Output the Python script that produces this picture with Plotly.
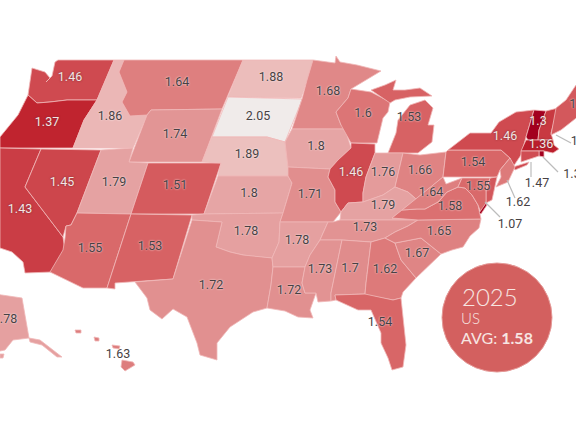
import plotly.graph_objects as go
from plotly.colors import sample_colorscale

# ---- data ----
states = ["WA","OR","CA","NV","ID","MT","WY","UT","AZ","CO","NM","ND","SD","NE","KS","OK","TX","MN","IA","MO","AR","LA",
          "WI","IL","MI","IN","OH","KY","TN","MS","AL","GA","FL","SC","NC","VA","WV","PA","NY","VT","NH","ME","MA","RI","CT","NJ","DE","MD","DC","AK","HI"]
values = [1.46,1.37,1.43,1.45,1.86,1.64,1.74,1.79,1.55,1.51,1.53,1.88,2.05,1.89,1.8,1.78,1.72,1.68,1.8,1.71,1.78,1.72,
          1.6,1.46,1.53,1.76,1.66,1.79,1.73,1.73,1.7,1.62,1.54,1.67,1.65,1.58,1.64,1.54,1.46,1.3,1.42,1.5,1.36,1.3,1.47,1.62,1.5,1.55,1.07,1.78,1.63]
year = "2025"
region = "US"
average = 1.58

# state outlines (no map files can be fetched offline)
outlines = {
"WA": [[(58,60),(114,60),(97,100),(67,100),(50,102),(37,103),(28,95),(32,68),(45,72),(50,78),(46,82),(52,76),(55,62)]],
"OR": [[(28,95),(37,103),(50,102),(67,100),(97,100),(84,120),(73,148),(0,148),(0,137),(18,115)]],
"CA": [[(0,148),(41,149),(25,187),(63,237),(65,250),(52,272),(25,273),(23,262),(12,252),(0,248)]],
"NV": [[(41,149),(101,150),(77,213),(71,225),(66,226),(63,237),(25,187)]],
"ID": [[(114,60),(124,60),(119,72),(127,92),(122,102),(130,116),(147,115),(133,148),(73,148),(84,120),(97,100)]],
"MT": [[(124,60),(243,60),(222,109),(151,110),(147,115),(130,116),(122,102),(127,92),(119,72)]],
"WY": [[(151,110),(222,109),(202,162),(129,162),(147,115)]],
"UT": [[(101,150),(133,148),(129,162),(148,163),(131,214),(77,213)]],
"AZ": [[(77,213),(131,214),(107,288),(83,288),(50,272),(63,250),(65,238),(66,226),(71,225)]],
"CO": [[(148,163),(221,163),(204,214),(131,214)]],
"NM": [[(131,214),(192,215),(173,279),(135,282),(115,283),(115,289),(107,288)]],
"ND": [[(243,60),(313,60),(307,80),(301,98),(228,97)]],
"SD": [[(228,97),(302,99),(300,105),(285,142),(267,137),(212,137)]],
"NE": [[(212,137),(267,137),(285,142),(288,165),(291,176),(218,176),(221,163),(202,162)]],
"KS": [[(218,176),(288,176),(292,183),(283,213),(204,214)]],
"OK": [[(192,215),(204,214),(283,213),(280,222),(279,242),(272,258),(260,257),(243,255),(230,252),(216,247),(222,222),(192,220)]],
"TX": [[(192,220),(222,222),(216,247),(230,252),(243,255),(260,257),(272,258),(273,267),(271,285),(267,308),(253,312),(230,327),(217,343),(217,360),(200,355),(197,343),(187,317),(173,309),(162,319),(150,310),(147,298),(135,282),(173,279)]],
"MN": [[(313,60),(335,63),(336,56),(340,62),(357,65),(381,71),(351,89),(348,98),(336,112),(341,125),(345,129),(292,129),(300,105),(302,99),(307,80)]],
"IA": [[(292,129),(345,129),(351,148),(338,160),(330,169),(288,167),(285,142)]],
"MO": [[(288,167),(330,169),(328,177),(335,190),(335,202),(341,212),(333,222),(328,222),(280,222),(283,213),(292,183),(288,176)]],
"AR": [[(280,222),(328,222),(323,233),(320,240),(310,255),(305,267),(273,267),(272,258),(279,242)]],
"LA": [[(273,267),(305,267),(302,283),(305,293),(316,293),(310,310),(313,318),(298,317),(285,311),(267,308),(271,285)]],
"WI": [[(351,89),(371,92),(390,102),(388,112),(383,118),(380,130),(377,143),(351,143),(341,125),(336,112),(348,98)]],
"IL": [[(351,143),(375,144),(375,153),(366,177),(363,193),(363,202),(348,203),(341,212),(335,202),(335,190),(328,177),(330,169),(338,160),(351,148)]],
"MI": [[(398,120),(410,105),(425,100),(433,108),(428,125),(434,125),(432,142),(418,153),(388,153),(396,133)],
       [(371,90),(385,85),(396,80),(393,90),(405,90),(420,88),(432,96),(410,97),(395,100),(390,103)]],
"IN": [[(375,153),(403,153),(395,187),(383,195),(363,202),(363,193),(366,177)]],
"OH": [[(403,153),(420,155),(446,152),(443,177),(431,187),(416,199),(408,192),(395,187)]],
"KY": [[(341,212),(348,203),(363,202),(383,195),(395,187),(408,192),(416,199),(402,210),(392,218),(418,220),(340,220)]],
"TN": [[(328,222),(333,222),(340,220),(418,220),(408,226),(395,232),(385,238),(371,242),(342,240),(320,240)]],
"MS": [[(320,240),(342,240),(331,293),(331,301),(318,302),(316,293),(305,293),(302,283),(305,267),(310,255)]],
"AL": [[(342,240),(371,242),(366,283),(365,294),(335,295),(336,300),(331,301),(331,293)]],
"GA": [[(371,242),(385,238),(395,243),(401,260),(416,278),(403,292),(401,298),(393,300),(366,295),(365,294),(366,283)]],
"FL": [[(335,295),(365,294),(393,300),(401,298),(403,317),(406,345),(403,367),(392,370),(388,358),(381,343),(381,333),(371,310),(358,310),(341,302),(336,300)]],
"SC": [[(395,243),(421,238),(441,254),(428,267),(416,278),(401,260)]],
"NC": [[(418,220),(481,219),(479,228),(470,236),(463,247),(452,250),(441,254),(421,238),(395,243),(385,238),(395,232),(408,226)]],
"VA": [[(392,218),(402,210),(417,209),(425,209),(438,202),(447,192),(458,187),(465,188),(472,195),(478,205),(481,219),(418,220)]],
"WV": [[(402,210),(416,199),(431,187),(443,177),(446,184),(462,178),(458,187),(447,192),(438,202),(425,209),(417,209)]],
"PA": [[(443,177),(446,152),(448,150),(501,150),(510,158),(500,170),(497,177)]],
"NY": [[(448,150),(470,133),(491,133),(499,122),(516,112),(534,110),(526,137),(521,155),(513,167),(510,158),(501,150)],
       [(513,167),(529,162),(527,165),(515,170)]],
"VT": [[(534,110),(546,111),(539,130),(538,140),(528,140),(526,137)]],
"NH": [[(546,111),(558,108),(551,133),(553,140),(538,140),(539,130)]],
"ME": [[(556,108),(566,100),(574,88),(576,85),(580,85),(580,115),(561,130),(551,135)]],
"MA": [[(526,140),(553,140),(554,145),(559,149),(553,153),(544,151),(521,151)]],
"RI": [[(539,151),(544,151),(544,157),(539,156)]],
"CT": [[(521,151),(539,151),(539,156),(521,162)]],
"NJ": [[(510,158),(515,167),(508,182),(496,187),(501,177),(500,170)]],
"DE": [[(490,178),(497,177),(492,200),(486,203),(486,190)]],
"MD": [[(458,187),(462,178),(490,178),(486,190),(486,203),(481,213),(478,205),(472,195),(465,188)]],
"DC": [[(486,203),(487,205),(481,214),(479,213)]],
"AK": [[(-5,294),(22,298),(29,338),(13,340),(5,350),(-5,352)],
       [(29,338),(40,340),(62,357),(57,357),(42,345),(30,342)],
       [(0,354),(4,354),(3,358),(0,358)]],
"HI": [[(122,360),(133,362),(135,365),(125,371),(121,367)],
       [(75,330),(81,330),(81,333),(76,333)],
       [(94,337),(99,338),(99,341),(95,341)],
       [(112,345),(120,346),(119,349),(113,348)]],
}

# label positions
label_xy = {"WA":(70,78),"OR":(47,123),"CA":(20,210),"NV":(62,183),"ID":(110,117),"MT":(177,83),"WY":(175,135),"UT":(114,183),
 "AZ":(90,249),"CO":(175,186),"NM":(150,247),"ND":(271,78),"SD":(258,117),"NE":(247,155),"KS":(249,194),"OK":(246,232),"TX":(211,286),
 "MN":(328,92),"IA":(316,147),"MO":(310,195),"AR":(297,241),"LA":(289,291),"WI":(363,114),"IL":(351,173),"MI":(409,118),"IN":(383,173),
 "OH":(420,171),"KY":(383,206),"TN":(365,228),"MS":(320,270),"AL":(350,269),"GA":(385,270),"FL":(380,323),"SC":(417,254),"NC":(439,232),
 "VA":(450,207),"WV":(431,193),"PA":(473,163),"NY":(505,137),"VT":(538,122),"NH":(583,142),"ME":(578,105),"MA":(541,145),"RI":(572,175),
 "CT":(537,184),"NJ":(518,203),"MD":(478,187),"DC":(510,225),"AK":(5,320),"HI":(118,355)}
light_labels = ["WA","OR","CA","NV","IL","NY","VT","MA"]
leaders = [((556,135),(571,143)),((543,157),(558,172)),((531,162),(531,177)),((507,180),(515,198)),((485,202),(500,217))]

# ---- colours ----
vmin, vmax = 1.30, 2.05
stops_v = [1.30,1.37,1.46,1.55,1.64,1.72,1.80,1.88,2.05]
stops_c = ["#a3001f","#c0242f","#cf4a50","#d9696a","#de7f7f","#e19090","#e6a5a5","#ecbdbb","#f0ebea"]
scale = [[(v-vmin)/(vmax-vmin), c] for v, c in zip(stops_v, stops_c)]
def colour(v):
    t = min(1, max(0, (v-vmin)/(vmax-vmin)))
    return sample_colorscale(scale, [t])[0]

fig = go.Figure()
val = dict(zip(states, values))
for s in states:
    xs, ys = [], []
    for part in outlines[s]:
        xs += [p[0] for p in part] + [part[0][0], None]
        ys += [p[1] for p in part] + [part[0][1], None]
    fig.add_trace(go.Scatter(x=xs, y=ys, mode="lines", fill="toself", fillcolor=colour(val[s]),
                             line=dict(color="#f0b8b8", width=0.8), name=s, hoverinfo="name", showlegend=False))

for a, b in leaders:
    fig.add_trace(go.Scatter(x=[a[0], b[0]], y=[a[1], b[1]], mode="lines", line=dict(color="#bcbcbc", width=1.2),
                             hoverinfo="skip", showlegend=False))

def labels(keys, colr, shadow):
    fig.add_trace(go.Scatter(x=[label_xy[k][0] for k in keys], y=[label_xy[k][1] for k in keys],
                             text=[f"{val[k]:g}" for k in keys], mode="text", hoverinfo="skip", showlegend=False,
                             textposition="middle center",
                             textfont=dict(family="Roboto", size=12.5, color=colr, shadow=shadow)))
labels([k for k in label_xy if k not in light_labels], "#474143", "0 0 2px #ffffff")
labels(light_labels, "#f3e6e4", "0 0 2px #6d2a30")

fig.update_layout(
    width=576, height=430, margin=dict(l=0, r=0, t=0, b=0), paper_bgcolor="white", plot_bgcolor="white",
    xaxis=dict(range=[0,576], visible=False, fixedrange=True),
    yaxis=dict(range=[430,0], visible=False, fixedrange=True),
    shapes=[dict(type="circle", xref="x", yref="y", x0=442, x1=552, y0=263, y1=372, fillcolor="#d3605f", line=dict(color="#e59a98", width=1))],
    annotations=[
        dict(x=460, y=296, text=year, showarrow=False, xanchor="left", yanchor="middle", font=dict(family="Lato", size=24, weight=300, color="#f7e6e2")),
        dict(x=459, y=318, text=region, showarrow=False, xanchor="left", yanchor="middle", font=dict(family="Lato", size=15, weight=300, color="#f7e6e2")),
        dict(x=459, y=337, text=f"AVG: <b>{average:.2f}</b>", showarrow=False, xanchor="left", yanchor="middle", font=dict(family="Lato", size=16, color="#f7e6e2")),
    ],
)
fig.write_html("out.html", config={"displayModeBar": False},
               post_script="document.body.style.margin='0';document.documentElement.style.overflow='hidden';")
